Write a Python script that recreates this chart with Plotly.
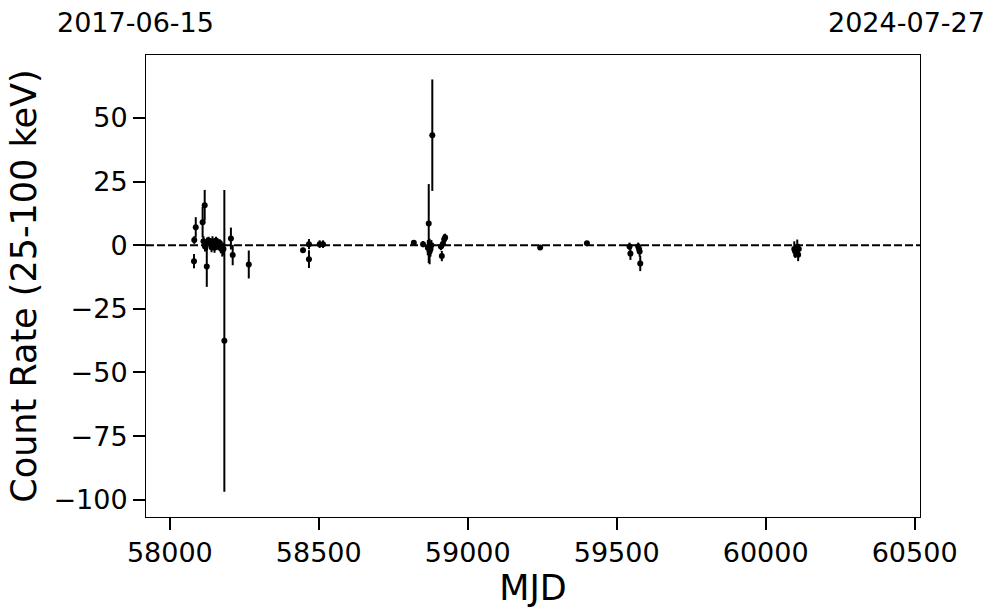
import plotly.graph_objects as go

# --- data ---
mjd = [58081, 58082, 58087, 58110, 58117, 58124,
       58113, 58118, 58125, 58130, 58135, 58140, 58143, 58147, 58150, 58155,
       58160, 58163, 58168, 58172, 58176, 58180, 58183, 58205, 58211, 58265,
       58447, 58467, 58467, 58503, 58514,
       58819, 58850, 58866, 58869, 58872, 58875, 58878, 58881, 58910, 58913,
       58917, 58921, 58924,
       59243, 59400,
       59543, 59546, 59572, 59575, 59577, 59579,
       60096, 60099, 60106, 60109, 60111]
rate = [-6.3, 2.0, 7.0, 9.0, 15.7, -8.4,
        1.5, -0.5, 0.5, 1.8, 0.8, -0.8, 1.5, 0.3, -1.0, 1.8,
        0.5, -0.5, 0.8, -1.2, -2.0, -1.5, -37.6, 2.6, -3.9, -7.6,
        -2.0, 0.4, -5.5, 0.4, 0.4,
        0.9, 0.4, -1.0, 8.5, -2.5, -1.5, 0.0, 43.2, -0.5, -4.3,
        0.5, 2.3, 3.0,
        -0.9, 0.7,
        -0.5, -3.3, -0.5, -1.5, -2.5, -7.2,
        -1.5, -2.5, -0.8, -3.8, -1.5]
err = [2.8, 1.5, 4.0, 6.0, 6.0, 8.0,
       2.0, 2.0, 2.5, 1.5, 2.0, 2.0, 2.0, 1.5, 2.0, 1.5,
       2.0, 1.5, 1.5, 2.0, 2.5, 2.5, 59.3, 4.3, 4.0, 5.5,
       1.0, 2.0, 3.5, 1.5, 1.5,
       1.0, 1.2, 3.0, 15.5, 5.0, 3.0, 2.0, 21.9, 1.5, 2.0,
       1.5, 2.0, 1.5,
       0.8, 0.6,
       1.5, 2.5, 1.5, 2.0, 2.0, 3.0,
       3.0, 2.5, 3.0, 2.5, 2.0]

yticks = [50, 25, 0, -25, -50, -75, -100]
yticklabels = ["50", "25", "0", "\u221225", "\u221250", "\u221275", "\u2212100"]
xticks = [58000, 58500, 59000, 59500, 60000, 60500]
date_left = "2017-06-15"
date_right = "2024-07-27"

FONT = "DejaVu Sans"

fig = go.Figure()
fig.add_shape(type="line", xref="paper", yref="y", x0=0, x1=1, y0=0, y1=0,
              line=dict(color="black", width=2, dash="8px,3px"), layer="above")
fig.add_trace(go.Scatter(
    x=mjd, y=rate, mode="markers",
    marker=dict(color="black", size=6),
    error_y=dict(type="data", array=err, visible=True, color="black",
                 thickness=2, width=0),
    showlegend=False,
))

axis_common = dict(showgrid=False, zeroline=False, showline=True, linecolor="black",
                   linewidth=1, mirror=True, ticks="outside", ticklen=12,
                   tickwidth=2, tickcolor="black",
                   tickfont=dict(family=FONT, size=27, color="black"))

fig.update_xaxes(range=[57920, 60518], tickvals=xticks,
                 ticktext=[str(v) for v in xticks],
                 title=dict(text="MJD", font=dict(family=FONT, size=35, color="black"),
                            standoff=4),
                 **axis_common)
fig.update_yaxes(range=[-106.8, 74.7], tickvals=yticks, ticktext=yticklabels,
                 title=dict(text="Count Rate (25-100 keV)",
                            font=dict(family=FONT, size=35, color="black"), standoff=6),
                 **axis_common)

fig.add_annotation(text=date_left, xref="paper", yref="paper", x=-0.013, y=1.0,
                   yshift=33, showarrow=False, xanchor="center", yanchor="middle",
                   borderpad=0,
                   font=dict(family=FONT, size=27, color="black"))
fig.add_annotation(text=date_right, xref="paper", yref="paper", x=0.982, y=1.0,
                   yshift=33, showarrow=False, xanchor="center", yanchor="middle",
                   borderpad=0,
                   font=dict(family=FONT, size=27, color="black"))

fig.update_layout(width=997, height=613,
                  margin=dict(l=145.5, r=76.7, t=55, b=96.3),
                  plot_bgcolor="white", paper_bgcolor="white",
                  font=dict(family=FONT, color="black"))

# remove the browser's default 8px body margin so the figure fills the window
fig.write_html("out.html",
               config={"displayModeBar": False},
               post_script="document.body.style.margin='0';"
                           "document.body.style.overflow='hidden';")
